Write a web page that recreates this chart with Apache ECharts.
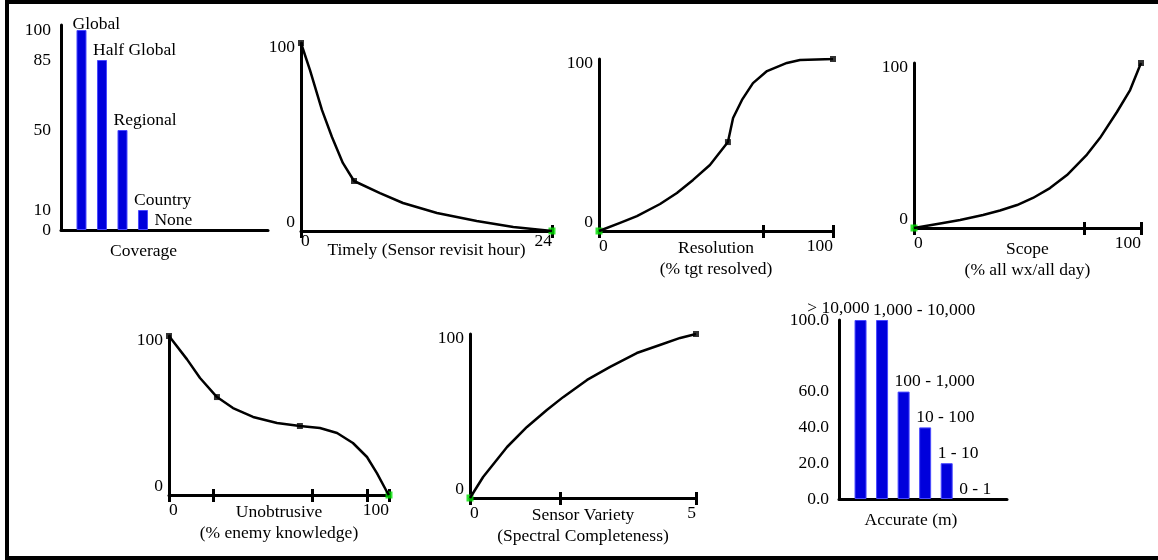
<!DOCTYPE html>
<html>
<head>
<meta charset="utf-8">
<script src="https://cdn.jsdelivr.net/npm/echarts@6/dist/echarts.min.js"></script>
<style>
  body { margin: 0; background: #fff; }
  #frame {
    position: absolute; left: 5px; top: 0; width: 1153px; height: 552px;
    border-left: 4px solid #000; border-top: 4px solid #000; border-bottom: 4px solid #000;
  }
  #main { position: absolute; left: 0; top: 0; width: 1158px; height: 560px; }
</style>
</head>
<body>
<div id="frame"></div>
<div id="main"></div>
<script>
// Coverage
const coverageCats = ['Global', 'Half Global', 'Regional', 'Country', 'None'];
const coverageVals = [100, 85, 50, 10, 0];
const coverageTicks = [0, 10, 50, 85, 100];

// Timely (Sensor revisit hour)
const timelyX = [0, 0.86, 2.0, 2.96, 4.0, 5.07, 7.55, 9.75, 13.0, 16.8, 20.3, 24];
const timelyY = [100, 85.6, 64.4, 50, 36.2, 26.6, 20.2, 14.9, 9.6, 5.3, 2.1, 0];
const timelyMarks = [0, 5];
const timelyZero = 11;
const timelyTicks = [0, 24];

// Resolution (% tgt resolved)
const resX = [0, 9.0, 16.2, 26.1, 33.3, 40.2, 47.4, 55.1, 57.3, 61.1, 65.8, 71.8, 80.3, 85.9, 100];
const resY = [0, 4.7, 8.7, 15.7, 22.1, 29.7, 38.4, 51.7, 65.7, 76.2, 86, 93, 97.7, 99.4, 100];
const resMarks = [7, 14];
const resZero = 0;
const resTicks = [0, 70, 100];

// Scope (% all wx/all day)
const scopeX = [0, 12.8, 20.3, 30.4, 37.9, 45.4, 52.4, 59.9, 67.4, 76.2, 81.9, 89.4, 95.2, 100];
const scopeY = [0, 3.0, 4.8, 7.9, 10.6, 13.9, 18.2, 24.2, 32.1, 44.5, 54.5, 70.3, 83.6, 100];
const scopeMarks = [13];
const scopeZero = 0;
const scopeTicks = [0, 75, 100];

// Unobtrusive (% enemy knowledge)
const unobX = [0, 8.2, 14.1, 21.8, 29.1, 38.2, 49.1, 59.5, 68.6, 76.4, 83.6, 90, 94.5, 99.1, 100];
const unobY = [100, 85.3, 73.6, 61.6, 54.7, 49.1, 45.3, 43.4, 42.1, 39, 32.7, 23.9, 13.8, 1.9, 0];
const unobMarks = [0, 3, 7];
const unobZero = 14;
const unobTicks = [0, 20, 65, 90, 100];

// Sensor Variety (Spectral Completeness)
const sensX = [0, 0.29, 0.82, 1.26, 1.70, 2.06, 2.59, 3.10, 3.69, 4.20, 4.65, 5];
const sensY = [0, 12.8, 31.1, 43.3, 53.7, 61.5, 72, 79.9, 88.4, 93.3, 97.6, 100];
const sensMarks = [11];
const sensZero = 0;
const sensTicks = [0, 2, 5];

// Accurate (m)
const accCats = ['> 10,000', '1,000 - 10,000', '100 - 1,000', '10 - 100', '1 - 10', '0 - 1'];
const accVals = [100, 100, 60, 40, 20, 0];
const accTicks = [0, 20, 40, 60, 100];

const FONT = 'Liberation Serif';
const txt = { color: '#000', fontFamily: FONT, fontSize: 17.5 };
const axisLine = { show: true, lineStyle: { color: '#000', width: 3 } };

let myChart = echarts.init(document.getElementById('main'));

const grids = [];
const xAxes = [];
const yAxes = [];
const series = [];

function barPanel (box, cats, vals, ticks, xMax, yMax, barWidth, name, namePad, yFmt, firstLabel) {
  const g = grids.length;
  grids.push(box);
  xAxes.push({
    gridIndex: g, type: 'value', min: 0.1, max: xMax,
    axisLine: axisLine, axisTick: { show: false }, axisLabel: { show: false }, splitLine: { show: false },
    name: name, nameLocation: 'middle', nameGap: 12, nameMoveOverlap: false,
    nameTextStyle: Object.assign({ padding: [0, namePad, 0, 0] }, txt)
  });
  yAxes.push({
    gridIndex: g, type: 'value', min: 0, max: yMax,
    axisLine: axisLine, axisTick: { show: false }, splitLine: { show: false },
    axisLabel: Object.assign({ customValues: ticks, margin: 10, formatter: yFmt }, txt)
  });
  series.push({
    type: 'bar', xAxisIndex: xAxes.length - 1, yAxisIndex: yAxes.length - 1,
    barWidth: barWidth,
    itemStyle: { color: '#0000dc', borderColor: '#4a4aff', borderWidth: 1 },
    label: Object.assign({ show: true, position: 'top', distance: 1, align: 'left', offset: [-9, 0], formatter: '{b}' }, txt),
    data: cats.map((c, i) => {
      const d = { name: c, value: [i + 1.1, vals[i]] };
      if (!vals[i]) d.itemStyle = { borderWidth: 0 };
      if (i === 0 && firstLabel) d.label = firstLabel;
      return d;
    })
  });
}

function linePanel (box, xs, ys, marks, zero, ticks, xMax, name, labelMargin, nameGap) {
  const g = grids.length;
  grids.push(box);
  xAxes.push({
    gridIndex: g, type: 'value', min: 0, max: xMax, position: 'bottom',
    axisLine: axisLine, splitLine: { show: false },
    axisTick: { show: true, customValues: ticks, length: 7, lineStyle: { color: '#000', width: 3 } },
    axisLabel: Object.assign({ customValues: [0, xMax], margin: labelMargin, alignMinLabel: 'left', alignMaxLabel: 'right' }, txt),
    name: name, nameLocation: 'middle', nameGap: nameGap, nameMoveOverlap: false,
    nameTextStyle: Object.assign({ lineHeight: 21 }, txt)
  });
  // inward half of the crossing ticks
  xAxes.push({
    gridIndex: g, type: 'value', min: 0, max: xMax, position: 'bottom',
    axisLine: { show: false }, axisLabel: { show: false }, splitLine: { show: false },
    axisTick: { show: true, inside: true, customValues: ticks, length: 6, lineStyle: { color: '#000', width: 3 } }
  });
  yAxes.push({
    gridIndex: g, type: 'value', min: 0, max: 100,
    axisLine: axisLine, axisTick: { show: false }, splitLine: { show: false },
    axisLabel: Object.assign({
      customValues: [0, 100], margin: 6, verticalAlignMinLabel: 'bottom',
      formatter: v => v === 100 ? '{hi|100}' : String(v),
      rich: { hi: Object.assign({ padding: [9, 0, 0, 0] }, txt) }
    }, txt)
  });
  const xi = xAxes.length - 2;
  const yi = yAxes.length - 1;
  series.push({
    type: 'line', xAxisIndex: xi, yAxisIndex: yi,
    symbol: 'none', smooth: false,
    lineStyle: { color: '#000', width: 2.5, join: 'round' },
    data: xs.map((x, i) => [x, ys[i]])
  });
  series.push({
    type: 'scatter', xAxisIndex: xi, yAxisIndex: yi,
    symbol: 'rect', symbolSize: 6, itemStyle: { color: '#000' },
    data: marks.map(i => [xs[i], ys[i]])
  });
  series.push({
    type: 'scatter', xAxisIndex: xi, yAxisIndex: yi,
    symbol: 'rect', symbolSize: 7, itemStyle: { color: '#00e000' },
    data: [[xs[zero], ys[zero]]]
  });
}

barPanel({ left: 61, top: 25, width: 207, height: 205 }, coverageCats, coverageVals, coverageTicks,
  10.2, 102.5, 10, 'Coverage', 42, null, { offset: [-9, 4] });
linePanel({ left: 301, top: 43, width: 251, height: 188 }, timelyX, timelyY, timelyMarks, timelyZero, timelyTicks,
  24, 'Timely (Sensor revisit hour)', 1, 9);
linePanel({ left: 599, top: 59, width: 234, height: 172 }, resX, resY, resMarks, resZero, resTicks,
  100, 'Resolution\n(% tgt resolved)', 6, 7);
linePanel({ left: 914, top: 63, width: 227, height: 165 }, scopeX, scopeY, scopeMarks, scopeZero, scopeTicks,
  100, 'Scope\n(% all wx/all day)', 6, 11);
linePanel({ left: 169, top: 336, width: 220, height: 159 }, unobX, unobY, unobMarks, unobZero, unobTicks,
  100, 'Unobtrusive\n(% enemy knowledge)', 6, 7);
linePanel({ left: 470, top: 334, width: 226, height: 164 }, sensX, sensY, sensMarks, sensZero, sensTicks,
  5, 'Sensor Variety\n(Spectral Completeness)', 6, 7);
barPanel({ left: 839, top: 320, width: 168, height: 179 }, accCats, accVals, accTicks,
  7.9, 100, 12, 'Accurate (m)', 24, v => v.toFixed(1), { align: 'right', offset: [9, -2] });

myChart.setOption({
  animation: false,
  grid: grids,
  xAxis: xAxes,
  yAxis: yAxes,
  series: series
});
</script>
</body>
</html>
